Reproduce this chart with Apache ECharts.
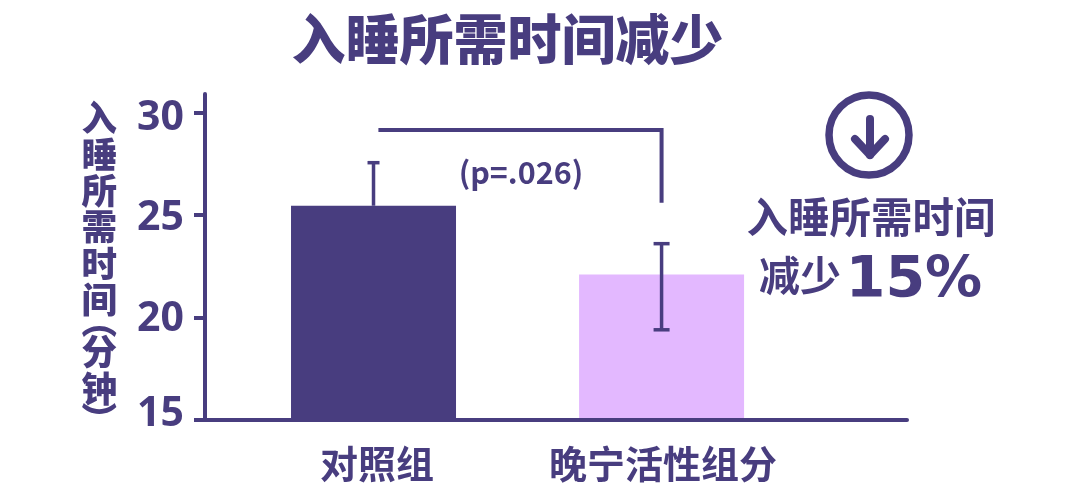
<!DOCTYPE html>
<html><head><meta charset="utf-8">
<style>html,body{margin:0;padding:0;background:#fff}#c{width:1075px;height:495px}</style>
<script src="https://cdn.jsdelivr.net/npm/echarts@6/dist/echarts.min.js"></script>
</head><body><div id="c"></div>
<script>
const categories = ["对照组", "晚宁活性组分"];
const values = [25.45, 22.1];
const errLow = [25.45, 19.4];
const errHigh = [27.55, 23.6];
const capWidths = [12, 16];
const barColors = ["#483D7F", "#E3B8FF"];
const yTicks = [15, 20, 25, 30];
const bracket = [[0.017, 29.15], [1, 29.15], [1, 25.6]];
const titleText = "入睡所需时间减少";
const pText = "(p=.026)";
const noteLine1 = "入睡所需时间";
const noteLine2a = "减少";
const noteLine2b = "15%";

const INK = "#483D7F";
const CJK = '"Noto Sans CJK SC","Noto Sans",sans-serif';
const YFONT = {fontFamily: '"Noto Sans",sans-serif', fontWeight: 700, fontSize: 41, color: INK};
const chart = echarts.init(document.getElementById("c"), null, {renderer: "canvas"});
chart.setOption({
  animation: false,
  backgroundColor: "#fff",
  title: {text: titleText, left: 502.5, top: 7, textAlign: "center",
    textStyle: {fontFamily: CJK, fontWeight: 900, fontSize: 54, color: INK}},
  grid: {left: 205, right: 168, top: 94, bottom: 75},
  xAxis: {
    type: "value", min: -0.585, max: 1.852, z: 5,
    splitLine: {show: false},
    axisLine: {show: true, onZero: false, lineStyle: {color: INK, width: 4}},
    axisTick: {show: false},
    axisLabel: {show: true, customValues: [0.012, 1.005], margin: 25, color: INK,
      fontFamily: CJK, fontWeight: 700, fontSize: 38, hideOverlap: false,
      formatter: v => categories[Math.round(v)]}
  },
  yAxis: {
    type: "value", min: 15, max: 30.9, z: 5,
    name: "{n|入\n睡\n所\n需\n时\n间\n}{p|︵}{n|\n分\n钟\n}{q|︶}",
    nameLocation: "middle", nameRotate: 0, nameGap: 88,
    nameTextStyle: {padding: [18, 0, 0, 0], rich: {
      n: {fontFamily: CJK, fontWeight: 900, fontSize: 35.5, lineHeight: 36.3, color: INK},
      p: {fontFamily: CJK, fontWeight: 900, fontSize: 35.5, lineHeight: 16, padding: [0, 0, 10, 0], color: INK},
      q: {fontFamily: CJK, fontWeight: 900, fontSize: 35.5, lineHeight: 26, color: INK}
    }},
    splitLine: {show: false},
    axisLine: {show: true, onZero: false, lineStyle: {color: INK, width: 4}},
    axisTick: {show: true, customValues: yTicks, length: 11, lineStyle: {color: INK, width: 4}},
    axisLabel: {show: true, customValues: yTicks, margin: 21, showMinLabel: true, showMaxLabel: true,
      formatter: v => `{t${v}|${v}}`,
      rich: {
        t30: {...YFONT, padding: [12, 0, 0, 0]},
        t25: {...YFONT, padding: [6, 0, 0, 0]},
        t20: {...YFONT, padding: [4, 0, 0, 0]},
        t15: {...YFONT, padding: [0, 0, 12, 0]}
      }}
  },
  series: [
    {type: "bar", barWidth: 165, z: 2,
     data: values.map((v, i) => ({value: [i, v], itemStyle: {color: barColors[i]}}))},
    {type: "custom", z: 4, encode: {x: 0, y: [1, 2]},
     data: errLow.map((l, i) => [i, l, errHigh[i], capWidths[i]]),
     renderItem(p, api) {
       const x = api.coord([api.value(0), 0])[0];
       const lo = api.coord([0, api.value(1)])[1];
       const hi = api.coord([0, api.value(2)])[1];
       const w = api.value(3) / 2;
       const style = {stroke: INK, lineWidth: 3.5, fill: null};
       const line = (x1, y1, x2, y2) => ({type: "line", shape: {x1, y1, x2, y2}, style});
       const kids = [line(x, lo, x, hi), line(x - w, hi, x + w, hi)];
       if (p.dataIndex === 1) kids.push(line(x - w, lo, x + w, lo));
       return {type: "group", children: kids};
     }},
    {type: "line", z: 4, data: bracket, symbol: "none", silent: true,
     lineStyle: {color: INK, width: 4, cap: "butt", join: "miter"}}
  ],
  graphic: [
    {type: "text", x: 521, y: 172, style: {text: pText, fill: INK, font: '600 30.5px ' + CJK, textAlign: "center", textVerticalAlign: "middle"}},
    {type: "circle", shape: {cx: 869, cy: 135, r: 40}, style: {fill: "none", stroke: INK, lineWidth: 7.5}},
    {type: "polyline", shape: {points: [[870, 119], [870, 155]]}, style: {stroke: INK, lineWidth: 8, lineCap: "round", fill: "none"}},
    {type: "polyline", shape: {points: [[855, 139], [870, 155], [885, 139]]}, style: {stroke: INK, lineWidth: 8, lineCap: "round", lineJoin: "round", fill: "none"}},
    {type: "text", x: 871, y: 217, style: {text: noteLine1, fill: INK, font: '700 41.5px ' + CJK, textAlign: "center", textVerticalAlign: "middle"}},
    {type: "text", x: 800, y: 275, style: {text: noteLine2a, fill: INK, font: '700 41px ' + CJK, textAlign: "center", textVerticalAlign: "middle"}},
    {type: "text", x: 914, y: 282, style: {text: noteLine2b, fill: INK, font: '700 57px "DejaVu Sans",sans-serif', textAlign: "center", textVerticalAlign: "middle"}}
  ]
});
</script></body></html>
